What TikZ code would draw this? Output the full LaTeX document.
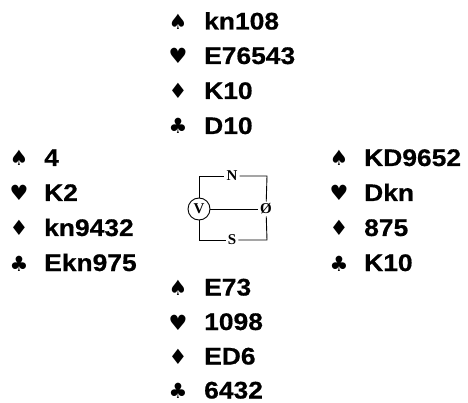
\documentclass[tikz,border=0pt]{standalone}
\usepackage{fontspec}
\newfontfamily\handfont{Liberation Sans Bold}[FakeStretch=1.1,FakeBold=0.6]
\newfontfamily\suitfont{DejaVu Sans}
\newfontfamily\dirfont{Liberation Serif Bold}
\begin{document}
\begin{tikzpicture}[x=1pt,y=-1pt,
  card/.style={anchor=base west,inner sep=0pt,font=\handfont\fontsize{24}{24}\selectfont},
  suit/.style={anchor=base,inner sep=0pt,font=\suitfont\fontsize{21}{21}\selectfont},
  dir/.style={inner sep=2pt,font=\dirfont\fontsize{15}{15}\selectfont},
  box/.style={line width=0.9pt}]
\useasboundingbox (0,0) rectangle (468,403);
% North
\node[suit] (ns1) at (178,29.5) {♠}; \node[card] (nc1) at (204,29.5) {kn108};
\node[suit] (ns2) at (178,64)   {♥}; \node[card] (nc2) at (204,64)   {E76543};
\node[suit] (ns3) at (178,99)   {♦}; \node[card] (nc3) at (204,99)   {K10};
\node[suit] (ns4) at (178,134)  {♣}; \node[card] (nc4) at (204,134)  {D10};
% West
\node[suit] (ws1) at (19,166) {♠}; \node[card] (wc1) at (44,166) {4};
\node[suit] (ws2) at (19,201) {♥}; \node[card] (wc2) at (44,201) {K2};
\node[suit] (ws3) at (19,236) {♦}; \node[card] (wc3) at (44,236) {kn9432};
\node[suit] (ws4) at (19,271) {♣}; \node[card] (wc4) at (44,271) {Ekn975};
% East
\node[suit] (es1) at (339,166) {♠}; \node[card] (ec1) at (364,166) {KD9652};
\node[suit] (es2) at (339,201) {♥}; \node[card] (ec2) at (364,201) {Dkn};
\node[suit] (es3) at (339,236) {♦}; \node[card] (ec3) at (364,236) {875};
\node[suit] (es4) at (339,271) {♣}; \node[card] (ec4) at (364,271) {K10};
% South
\node[suit] (ss1) at (178,295.5) {♠}; \node[card] (sc1) at (204,295.5) {E73};
\node[suit] (ss2) at (178,330) {♥}; \node[card] (sc2) at (204,330) {1098};
\node[suit] (ss3) at (178,364.5) {♦}; \node[card] (sc3) at (204,364.5) {ED6};
\node[suit] (ss4) at (178,398.5) {♣}; \node[card] (sc4) at (204,398.5) {6432};
% compass
\coordinate (tl) at (199,176);
\coordinate (tr) at (267,176);
\coordinate (bl) at (199,240);
\coordinate (br) at (267,240);
\node[dir] (N) at (232,176) {N};
\node[dir] (S) at (232,240) {S};
\node[dir,circle,draw,line width=0.9pt,inner sep=0pt,minimum size=22pt] (V) at (199,209) {V};
\node[dir] (O) at (266,209) {Ø};
\draw[box] (V) -- (tl) -- (N);
\draw[box] (N) -- (tr) -- (O);
\draw[box] (O) -- (br) -- (S);
\draw[box] (S) -- (bl) -- (V);
\draw[box] (V) -- (O);
\end{tikzpicture}
\end{document}
